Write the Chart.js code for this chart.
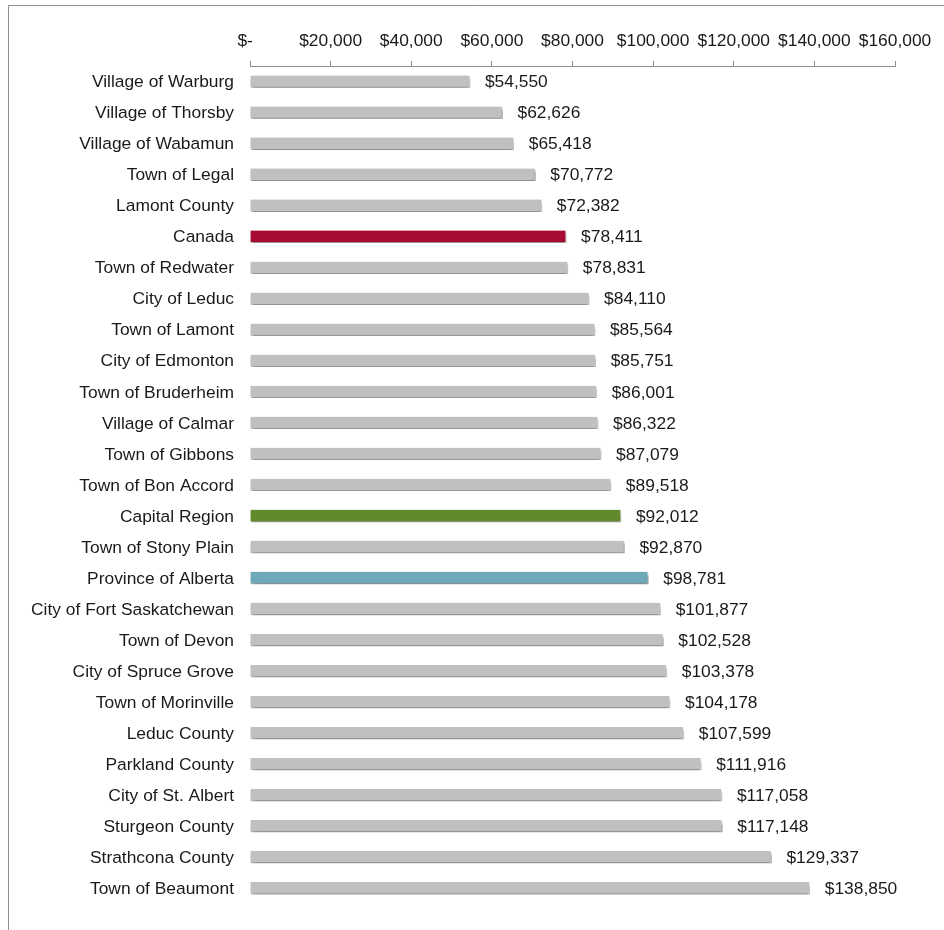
<!DOCTYPE html>
<html>
<head>
<meta charset="utf-8">
<script src="https://cdn.jsdelivr.net/npm/chart.js@4"></script>
<style>
  html, body { margin: 0; padding: 0; background: #fff; }
  #wrap { position: relative; width: 944px; height: 930px; }
</style>
</head>
<body>
<div id="wrap"><canvas id="incomeChart" width="944" height="930"></canvas></div>
<script>
  // categories and values
  const places = [
    'Village of Warburg', 'Village of Thorsby', 'Village of Wabamun', 'Town of Legal',
    'Lamont County', 'Canada', 'Town of Redwater', 'City of Leduc', 'Town of Lamont',
    'City of Edmonton', 'Town of Bruderheim', 'Village of Calmar', 'Town of Gibbons',
    'Town of Bon Accord', 'Capital Region', 'Town of Stony Plain', 'Province of Alberta',
    'City of Fort Saskatchewan', 'Town of Devon', 'City of Spruce Grove', 'Town of Morinville',
    'Leduc County', 'Parkland County', 'City of St. Albert', 'Sturgeon County',
    'Strathcona County', 'Town of Beaumont'
  ];
  const income = [
    54550, 62626, 65418, 70772, 72382, 78411, 78831, 84110, 85564, 85751, 86001, 86322,
    87079, 89518, 92012, 92870, 98781, 101877, 102528, 103378, 104178, 107599, 111916,
    117058, 117148, 129337, 138850
  ];
  const axisTicks = [0, 20000, 40000, 60000, 80000, 100000, 120000, 140000, 160000];

  const highlight = { 'Canada': '#a80b32', 'Capital Region': '#62892a', 'Province of Alberta': '#6fa8b9' };
  const barColors = places.map(p => highlight[p] || '#c0c0c0');

  const money = v => v === 0 ? '$-  ' : '$' + v.toLocaleString('en-US');
  const font = { family: "'Liberation Sans', Arial, sans-serif", size: 17.4 };

  // frame around the chart (only top and left edges are visible)
  const framePlugin = {
    id: 'frame',
    beforeDraw(chart) {
      const c = chart.ctx;
      c.save();
      c.strokeStyle = '#8c8c8c';
      c.lineWidth = 1;
      c.beginPath();
      c.moveTo(8.5, chart.height);
      c.lineTo(8.5, 5.5);
      c.lineTo(chart.width, 5.5);
      c.stroke();
      c.restore();
    }
  };

  // soft drop shadow under bars
  const shadowPlugin = {
    id: 'barShadow',
    beforeDatasetsDraw(chart) {
      const c = chart.ctx;
      c.save();
      c.shadowColor = 'rgba(0,0,0,0.45)';
      c.shadowBlur = 3;
      c.shadowOffsetX = 1;
      c.shadowOffsetY = 3;
    },
    afterDatasetsDraw(chart) {
      chart.ctx.restore();
    }
  };

  const valueLabels = {
    id: 'valueLabels',
    afterDatasetsDraw(chart) {
      const c = chart.ctx;
      const meta = chart.getDatasetMeta(0);
      c.save();
      c.font = font.size + 'px ' + font.family;
      c.fillStyle = '#1a1a1a';
      c.textAlign = 'left';
      c.textBaseline = 'middle';
      meta.data.forEach((bar, i) => {
        c.fillText(money(income[i]), bar.x + 15, bar.y + 1);
      });
      c.restore();
    }
  };

  const ctx = document.getElementById('incomeChart').getContext('2d');
  const incomeChart = new Chart(ctx, {
    type: 'bar',
    data: {
      labels: places,
      datasets: [{
        data: income,
        backgroundColor: barColors,
        borderColor: '#fafafa',
        borderWidth: { top: 0, left: 0, right: 1, bottom: 1 },
        barThickness: 12
      }]
    },
    options: {
      indexAxis: 'y',
      responsive: false,
      animation: false,
      layout: { padding: { top: 0, left: 0, right: 49, bottom: 17 } },
      plugins: {
        legend: { display: false },
        tooltip: { enabled: false }
      },
      scales: {
        x: {
          position: 'top',
          min: 0,
          max: 160000,
          afterBuildTicks(scale) { scale.ticks = axisTicks.map(v => ({ value: v })); },
          afterFit(scale) { scale.height = 66; },
          grid: { display: true, drawOnChartArea: false, drawTicks: true, tickLength: 5, color: '#8c8c8c' },
          border: { display: true, color: '#8c8c8c' },
          ticks: { font: font, color: '#1a1a1a', padding: 9, maxRotation: 0, autoSkip: false, callback: v => money(v) }
        },
        y: {
          afterFit(scale) { scale.width = 250; },
          grid: { display: false, drawTicks: false },
          border: { display: false },
          ticks: { font: font, color: '#1a1a1a', padding: 16, labelOffset: 1, autoSkip: false }
        }
      }
    },
    plugins: [framePlugin, shadowPlugin, valueLabels]
  });
</script>
</body>
</html>
